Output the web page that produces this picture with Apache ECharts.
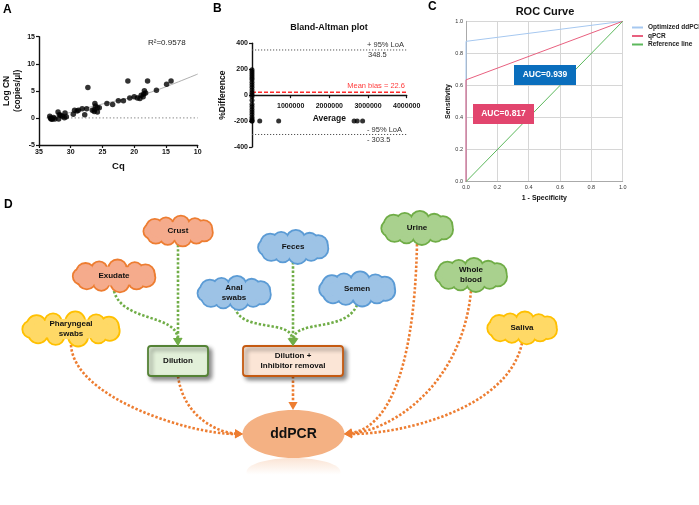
<!DOCTYPE html>
<html><head><meta charset="utf-8">
<script src="https://cdn.jsdelivr.net/npm/echarts@6/dist/echarts.min.js"></script>
<style>html,body{margin:0;padding:0;background:#fff}#c{width:699px;height:505px}</style>
</head><body><div id="c"></div>
<script>
// ---------- Panel A: standard curve ----------
const cqValues = [33.3, 33.1, 32.9, 32.7, 33.2, 33.0, 32.5, 32.0, 31.9, 31.8, 31.6, 31.3, 31.0, 30.9, 30.7,
  29.6, 29.4, 29.0, 28.8, 28.2, 27.5, 27.8, 27.3, 26.6, 26.3, 26.2, 26.1, 25.8, 26.3, 25.8, 25.5,
  24.3, 23.4, 22.5, 21.7, 21.0, 20.7, 20.0, 19.5, 19.1, 18.9, 18.5, 18.6, 18.2, 18.4, 17.9, 16.5, 14.9, 14.2];
const logCN = [0.3, -0.2, -0.25, 0.1, 0.0, -0.1, -0.2, 1.1, -0.2, 0.6, 0.5, 0.3, 0.05, 0.9, 0.2,
  0.7, 1.4, 1.3, 1.4, 1.7, 1.7, 0.6, 5.6, 1.4, 1.5, 2.65, 2.2, 1.9, 1.2, 1.1, 1.9,
  2.65, 2.5, 3.15, 3.15, 6.8, 3.7, 3.9, 3.7, 3.6, 4.2, 4.4, 3.9, 4.6, 5.0, 6.8, 5.1, 6.2, 6.8];
const fitCq = [33.5, 26, 20, 16.5, 10];
const fitLogCN = [-0.1, 2.3, 3.9, 5.1, 8.1];
const zeroLineCq = [33.8, 10];
const rSquared = '0.9578';

// ---------- Panel B: Bland-Altman ----------
const baAverage = [0,0,0,0,0,0,0,0,0,0,0,0,0,0,0,0,0,0,0,0,0,0,0, 200000, 690000, 2640000, 2720000, 2860000];
const baDiff = [195,180,165,150,135,120,100,80,60,40,20,5,-10,-40,-70,-90,-110,-130,-150,-170,-185,-200,-200, -200,-200,-200,-200,-200];
const meanBias = 22.6, loaUpper = 348.5, loaLower = -303.5;

// ---------- Panel C: ROC ----------
const rocNames = ['Optimized ddPCR', 'qPCR', 'Reference line'];
const ddpcrFpr = [0, 0, 1], ddpcrTpr = [0, 0.875, 1];
const qpcrFpr = [0, 0, 1], qpcrTpr = [0, 0.635, 1];
const refFpr = [0, 1], refTpr = [0, 1];
const aucDdpcr = 'AUC=0.939', aucQpcr = 'AUC=0.817';

// ---------- Panel D: workflow labels ----------
const sampleLabels = ['Crust', 'Exudate', 'Pharyngeal\nswabs', 'Feces', 'Anal\nswabs', 'Semen', 'Urine', 'Whole\nblood', 'Saliva'];
const stepLabels = ['Dilution', 'Dilution +\nInhibitor removal', 'ddPCR'];

const FONT = 'Liberation Sans';
const zip = (a, b) => a.map((v, i) => [v, b[i]]);

const chart = echarts.init(document.getElementById('c'), null, {renderer: 'canvas'});

const blackAxis = {lineStyle: {color: '#111', width: 1.4}};
const boldLbl = (m) => ({color: '#111', fontSize: 7, fontWeight: 'bold', fontFamily: FONT, margin: m});

// Diagram helpers
const PAL = {
  orange: {fill: '#f5ab8c', stroke: '#ed7d31'},
  blue: {fill: '#9dc3e6', stroke: '#5b9bd5'},
  green: {fill: '#a9d18e', stroke: '#70ad47'},
  yellow: {fill: '#ffd966', stroke: '#ffc000'}
};
const bumps = [];
for (let k = 0; k < 11; k++) {
  const t = 2 * Math.PI * k / 11 + 0.25;
  bumps.push([0.77 * Math.cos(t), 0.5 * Math.sin(t), k % 2 ? 0.25 : 0.29]);
}
function cloud(label, cx, cy, w, h, pal) {
  const els = [];
  bumps.forEach(b => {
    els.push({type: 'circle', z: 2, shape: {cx: cx + b[0] * w / 2, cy: cy + b[1] * h / 2, r: b[2] * h},
      style: {fill: pal.stroke, stroke: pal.stroke, lineWidth: 3.6}});
  });
  bumps.forEach(b => {
    els.push({type: 'circle', z: 3, shape: {cx: cx + b[0] * w / 2, cy: cy + b[1] * h / 2, r: b[2] * h},
      style: {fill: pal.fill}});
  });
  els.push({type: 'ellipse', z: 3, shape: {cx: cx, cy: cy, rx: w * 0.4, ry: h * 0.33}, style: {fill: pal.fill}});
  els.push({type: 'text', z: 4, x: cx, y: cy, style: {text: label, fill: '#111', fontSize: 8, fontWeight: 'bold',
    fontFamily: FONT, align: 'center', verticalAlign: 'middle', lineHeight: 10}});
  return els;
}
function arrow(p, color) {
  const [x1, y1, c1x, c1y, c2x, c2y, x2, y2] = p;
  const ang = Math.atan2(y2 - c2y, x2 - c2x);
  const L = 8, W = 4.6;
  const bx = x2 - L * Math.cos(ang), by = y2 - L * Math.sin(ang);
  return [
    {type: 'bezierCurve', z: 1, shape: {x1: x1, y1: y1, cpx1: c1x, cpy1: c1y, cpx2: c2x, cpy2: c2y, x2: bx, y2: by},
      style: {stroke: color, lineWidth: 2.6, lineDash: [2.4, 1.9], fill: null}},
    {type: 'polygon', z: 5, shape: {points: [[x2, y2], [bx - W * Math.sin(ang), by + W * Math.cos(ang)], [bx + W * Math.sin(ang), by - W * Math.cos(ang)]]},
      style: {fill: color}}
  ];
}

let graphics = [];
// panel letters
[['A', 3, 4], ['B', 213, 3], ['C', 428, 1], ['D', 4, 199]].forEach(t => {
  graphics.push({type: 'text', x: t[1], y: t[2], style: {text: t[0], fill: '#000', fontSize: 12, fontWeight: 'bold', fontFamily: FONT}});
});
// A annotation
graphics.push({type: 'text', x: 148, y: 43, style: {text: 'R²=' + rSquared, fill: '#222', fontSize: 8, fontFamily: FONT, verticalAlign: 'middle'}});
// B annotations
const baTxt = (s, x, y, col, al) => ({type: 'text', x: x, y: y, style: {text: s, fill: col, fontSize: 7.5, fontFamily: FONT, align: al || 'left', verticalAlign: 'middle'}});
graphics.push(baTxt('+ 95% LoA', 367, 45, '#333'));
graphics.push(baTxt(String(loaUpper), 368, 55, '#333'));
graphics.push(baTxt('Mean bias = ' + meanBias, 405, 86, '#ff3b3b', 'right'));
graphics.push(baTxt('- 95% LoA', 367, 130, '#333'));
graphics.push(baTxt('- ' + Math.abs(loaLower), 367, 140, '#333'));
// C AUC boxes
graphics.push({type: 'rect', z: 5, shape: {x: 514, y: 65, width: 62, height: 20}, style: {fill: '#0a6ebd'}});
graphics.push({type: 'text', z: 6, x: 545, y: 75, style: {text: aucDdpcr, fill: '#fff', fontSize: 8.5, fontWeight: 'bold', fontFamily: FONT, align: 'center', verticalAlign: 'middle'}});
graphics.push({type: 'rect', z: 5, shape: {x: 473, y: 104, width: 61, height: 20}, style: {fill: '#e2456e'}});
graphics.push({type: 'text', z: 6, x: 503.5, y: 114, style: {text: aucQpcr, fill: '#fff', fontSize: 8.5, fontWeight: 'bold', fontFamily: FONT, align: 'center', verticalAlign: 'middle'}});

// D clouds
const cloudLayout = [
  [178, 231, 70, 27, 'orange'], [114, 276, 86, 29, 'orange'], [71, 329, 104, 31, 'yellow'],
  [293, 247, 69, 30, 'blue'], [234, 293, 73, 30, 'blue'], [357, 289, 76, 31, 'blue'],
  [417, 228, 71, 30, 'green'], [471, 275, 71, 30, 'green'], [522, 328, 69, 29, 'yellow']
];
sampleLabels.forEach((lab, i) => {
  const c = cloudLayout[i];
  graphics = graphics.concat(cloud(lab, c[0], c[1], c[2], c[3], PAL[c[4]]));
});
// boxes
const shadow = {shadowBlur: 4, shadowColor: 'rgba(0,0,0,0.45)', shadowOffsetX: 3, shadowOffsetY: 3};
graphics.push({type: 'rect', z: 3, shape: {x: 148, y: 346, width: 60, height: 30, r: 3},
  style: Object.assign({fill: '#e2f0d9', stroke: '#548235', lineWidth: 1.8}, shadow)});
graphics.push({type: 'text', z: 4, x: 178, y: 361, style: {text: stepLabels[0], fill: '#111', fontSize: 8, fontWeight: 'bold', fontFamily: FONT, align: 'center', verticalAlign: 'middle'}});
graphics.push({type: 'rect', z: 3, shape: {x: 243, y: 346, width: 100, height: 30, r: 3},
  style: Object.assign({fill: '#fbe5d6', stroke: '#c55a11', lineWidth: 1.8}, shadow)});
graphics.push({type: 'text', z: 4, x: 293, y: 361, style: {text: stepLabels[1], fill: '#111', fontSize: 8, fontWeight: 'bold', fontFamily: FONT, align: 'center', verticalAlign: 'middle', lineHeight: 10}});
// ddPCR ellipse + reflection
graphics.push({type: 'ellipse', z: 3, shape: {cx: 293.5, cy: 434, rx: 51, ry: 24}, style: {fill: '#f4b183'}});
graphics.push({type: 'ellipse', z: 2, shape: {cx: 293.5, cy: 472, rx: 47, ry: 14},
  style: {fill: {type: 'linear', x: 0, y: 0, x2: 0, y2: 1, colorStops: [{offset: 0, color: 'rgba(244,177,131,0.35)'}, {offset: 0.6, color: 'rgba(244,177,131,0.0)'}]}}});
graphics.push({type: 'text', z: 4, x: 293.5, y: 434, style: {text: stepLabels[2], fill: '#111', fontSize: 14, fontWeight: 'bold', fontFamily: FONT, align: 'center', verticalAlign: 'middle'}});
// arrows
const G = '#70ad47', O = '#ed7d31';
[
  [178, 245, 178, 280, 178, 320, 178, 346],
  [114, 291, 122, 322, 176, 314, 178, 346],
  [293, 262, 293, 290, 293, 320, 293, 346],
  [235, 308, 242, 332, 290, 320, 293, 346],
  [357, 305, 346, 332, 296, 320, 293, 346]
].forEach(p => graphics = graphics.concat(arrow(p, G)));
[
  [293, 376, 293, 390, 293, 400, 293, 410],
  [178, 376, 184, 420, 222, 433, 243, 434],
  [71, 345, 74, 398, 190, 434, 243, 434],
  [417, 244, 414, 385, 382, 428, 344, 434],
  [471, 291, 462, 385, 392, 430, 344, 434],
  [522, 343, 508, 410, 400, 434, 344, 434]
].forEach(p => graphics = graphics.concat(arrow(p, O)));

const gridB = {left: 252, top: 43.3, width: 154.7, height: 103.7};

const option = {
  animation: false,
  backgroundColor: '#fff',
  textStyle: {fontFamily: FONT},
  title: [
    {text: 'Bland-Altman plot', left: 329, top: 23, textAlign: 'center', padding: 0,
      textStyle: {fontSize: 9, fontWeight: 'bold', color: '#111', fontFamily: FONT}},
    {text: 'ROC Curve', left: 545, top: 6, textAlign: 'center', padding: 0,
      textStyle: {fontSize: 11, fontWeight: 'bold', color: '#111', fontFamily: FONT}}
  ],
  legend: {data: rocNames, orient: 'vertical', left: 632, top: 24, itemWidth: 11, itemHeight: 2, itemGap: 1.5,
    icon: 'rect', padding: 0, textStyle: {fontSize: 6.5, fontWeight: 'bold', color: '#222', fontFamily: FONT}},
  grid: [
    {left: 39, top: 36.7, width: 158.7, height: 108.3},
    gridB,
    {left: 466, top: 21.3, width: 156.7, height: 160.4}
  ],
  xAxis: [
    {gridIndex: 0, type: 'value', min: 10, max: 35, interval: 5, inverse: true,
      axisLine: Object.assign({onZero: false}, blackAxis), axisTick: {length: 3, lineStyle: {color: '#111', width: 1.2}},
      axisLabel: boldLbl(4), splitLine: {show: false},
      name: 'Cq', nameLocation: 'middle', nameGap: 16, nameTextStyle: {fontSize: 9.5, fontWeight: 'bold', color: '#111'}},
    {gridIndex: 1, type: 'value', min: 0, max: 4000000, interval: 1000000, position: 'bottom', offset: -gridB.height / 2,
      axisLine: Object.assign({onZero: false}, blackAxis), axisTick: {length: 3, lineStyle: {color: '#111', width: 1.2}},
      axisLabel: Object.assign(boldLbl(7), {formatter: v => v === 0 ? '' : String(v)}), splitLine: {show: false},
      name: 'Average', nameLocation: 'middle', nameGap: 19, nameTextStyle: {fontSize: 8.5, fontWeight: 'bold', color: '#111'}},
    {gridIndex: 2, type: 'value', min: 0, max: 1, interval: 0.2,
      axisLine: {lineStyle: {color: '#aaa', width: 1}}, axisTick: {show: false},
      axisLabel: {fontSize: 5.5, color: '#333', margin: 3, formatter: v => v.toFixed(1)},
      splitLine: {show: true, lineStyle: {color: '#d6d6d6', width: 1}},
      name: '1 - Specificity', nameLocation: 'middle', nameGap: 13, nameTextStyle: {fontSize: 7, fontWeight: 'bold', color: '#111'}}
  ],
  yAxis: [
    {gridIndex: 0, type: 'value', min: -5, max: 15, interval: 5,
      axisLine: Object.assign({onZero: false}, blackAxis), axisTick: {show: true, length: 3, lineStyle: {color: '#111', width: 1.2}},
      axisLabel: boldLbl(4), splitLine: {show: false},
      name: 'Log CN\n(copies/µl)', nameLocation: 'middle', nameGap: 14, nameRotate: 90,
      nameTextStyle: {fontSize: 8.5, fontWeight: 'bold', color: '#111', lineHeight: 11}},
    {gridIndex: 1, type: 'value', min: -400, max: 400, interval: 200,
      axisLine: Object.assign({onZero: false}, blackAxis), axisTick: {show: true, length: 3, lineStyle: {color: '#111', width: 1.2}},
      axisLabel: boldLbl(4), splitLine: {show: false},
      name: '%Difference', nameLocation: 'middle', nameGap: 25, nameRotate: 90,
      nameTextStyle: {fontSize: 8.5, fontWeight: 'bold', color: '#111'}},
    {gridIndex: 2, type: 'value', min: 0, max: 1, interval: 0.2,
      axisLine: {show: true, lineStyle: {color: '#aaa', width: 1}}, axisTick: {show: false},
      axisLabel: {fontSize: 5.5, color: '#333', margin: 3, formatter: v => v.toFixed(1)},
      splitLine: {show: true, lineStyle: {color: '#d6d6d6', width: 1}},
      name: 'Sensitivity', nameLocation: 'middle', nameGap: 14, nameRotate: 90,
      nameTextStyle: {fontSize: 7, fontWeight: 'bold', color: '#111'}}
  ],
  series: [
    {type: 'line', xAxisIndex: 0, yAxisIndex: 0, data: zip(zeroLineCq, [0, 0]), symbol: 'none', silent: true,
      lineStyle: {color: '#999', width: 1.3, type: [1.3, 2.2]}, z: 1},
    {type: 'line', xAxisIndex: 0, yAxisIndex: 0, data: zip(fitCq, fitLogCN), symbol: 'none', smooth: 0.3, silent: true,
      lineStyle: {color: '#999', width: 0.8}, z: 1},
    {type: 'scatter', xAxisIndex: 0, yAxisIndex: 0, data: zip(cqValues, logCN), symbolSize: 5.5,
      itemStyle: {color: '#000'}, z: 3},
    {type: 'line', xAxisIndex: 1, yAxisIndex: 1, data: [[0, loaUpper], [4000000, loaUpper]], symbol: 'none',
      lineStyle: {color: '#555', width: 1, type: [1.2, 1.8]}},
    {type: 'line', xAxisIndex: 1, yAxisIndex: 1, data: [[0, loaLower], [4000000, loaLower]], symbol: 'none',
      lineStyle: {color: '#555', width: 1, type: [1.2, 1.8]}},
    {type: 'line', xAxisIndex: 1, yAxisIndex: 1, data: [[0, meanBias], [4000000, meanBias]], symbol: 'none',
      lineStyle: {color: '#ff2a2a', width: 1.4, type: [4, 2]}},
    {type: 'scatter', xAxisIndex: 1, yAxisIndex: 1, data: zip(baAverage, baDiff), symbolSize: 5,
      itemStyle: {color: '#000'}, z: 3},
    {name: rocNames[0], type: 'line', xAxisIndex: 2, yAxisIndex: 2, data: zip(ddpcrFpr, ddpcrTpr), symbol: 'none',
      color: '#a6c8f0', lineStyle: {color: '#a6c8f0', width: 1}},
    {name: rocNames[1], type: 'line', xAxisIndex: 2, yAxisIndex: 2, data: zip(qpcrFpr, qpcrTpr), symbol: 'none',
      color: '#e8607f', lineStyle: {color: '#e8607f', width: 1}},
    {name: rocNames[2], type: 'line', xAxisIndex: 2, yAxisIndex: 2, data: zip(refFpr, refTpr), symbol: 'none',
      color: '#5cb85c', lineStyle: {color: '#5cb85c', width: 1}}
  ],
  graphic: graphics
};
chart.setOption(option);
</script>
</body></html>
